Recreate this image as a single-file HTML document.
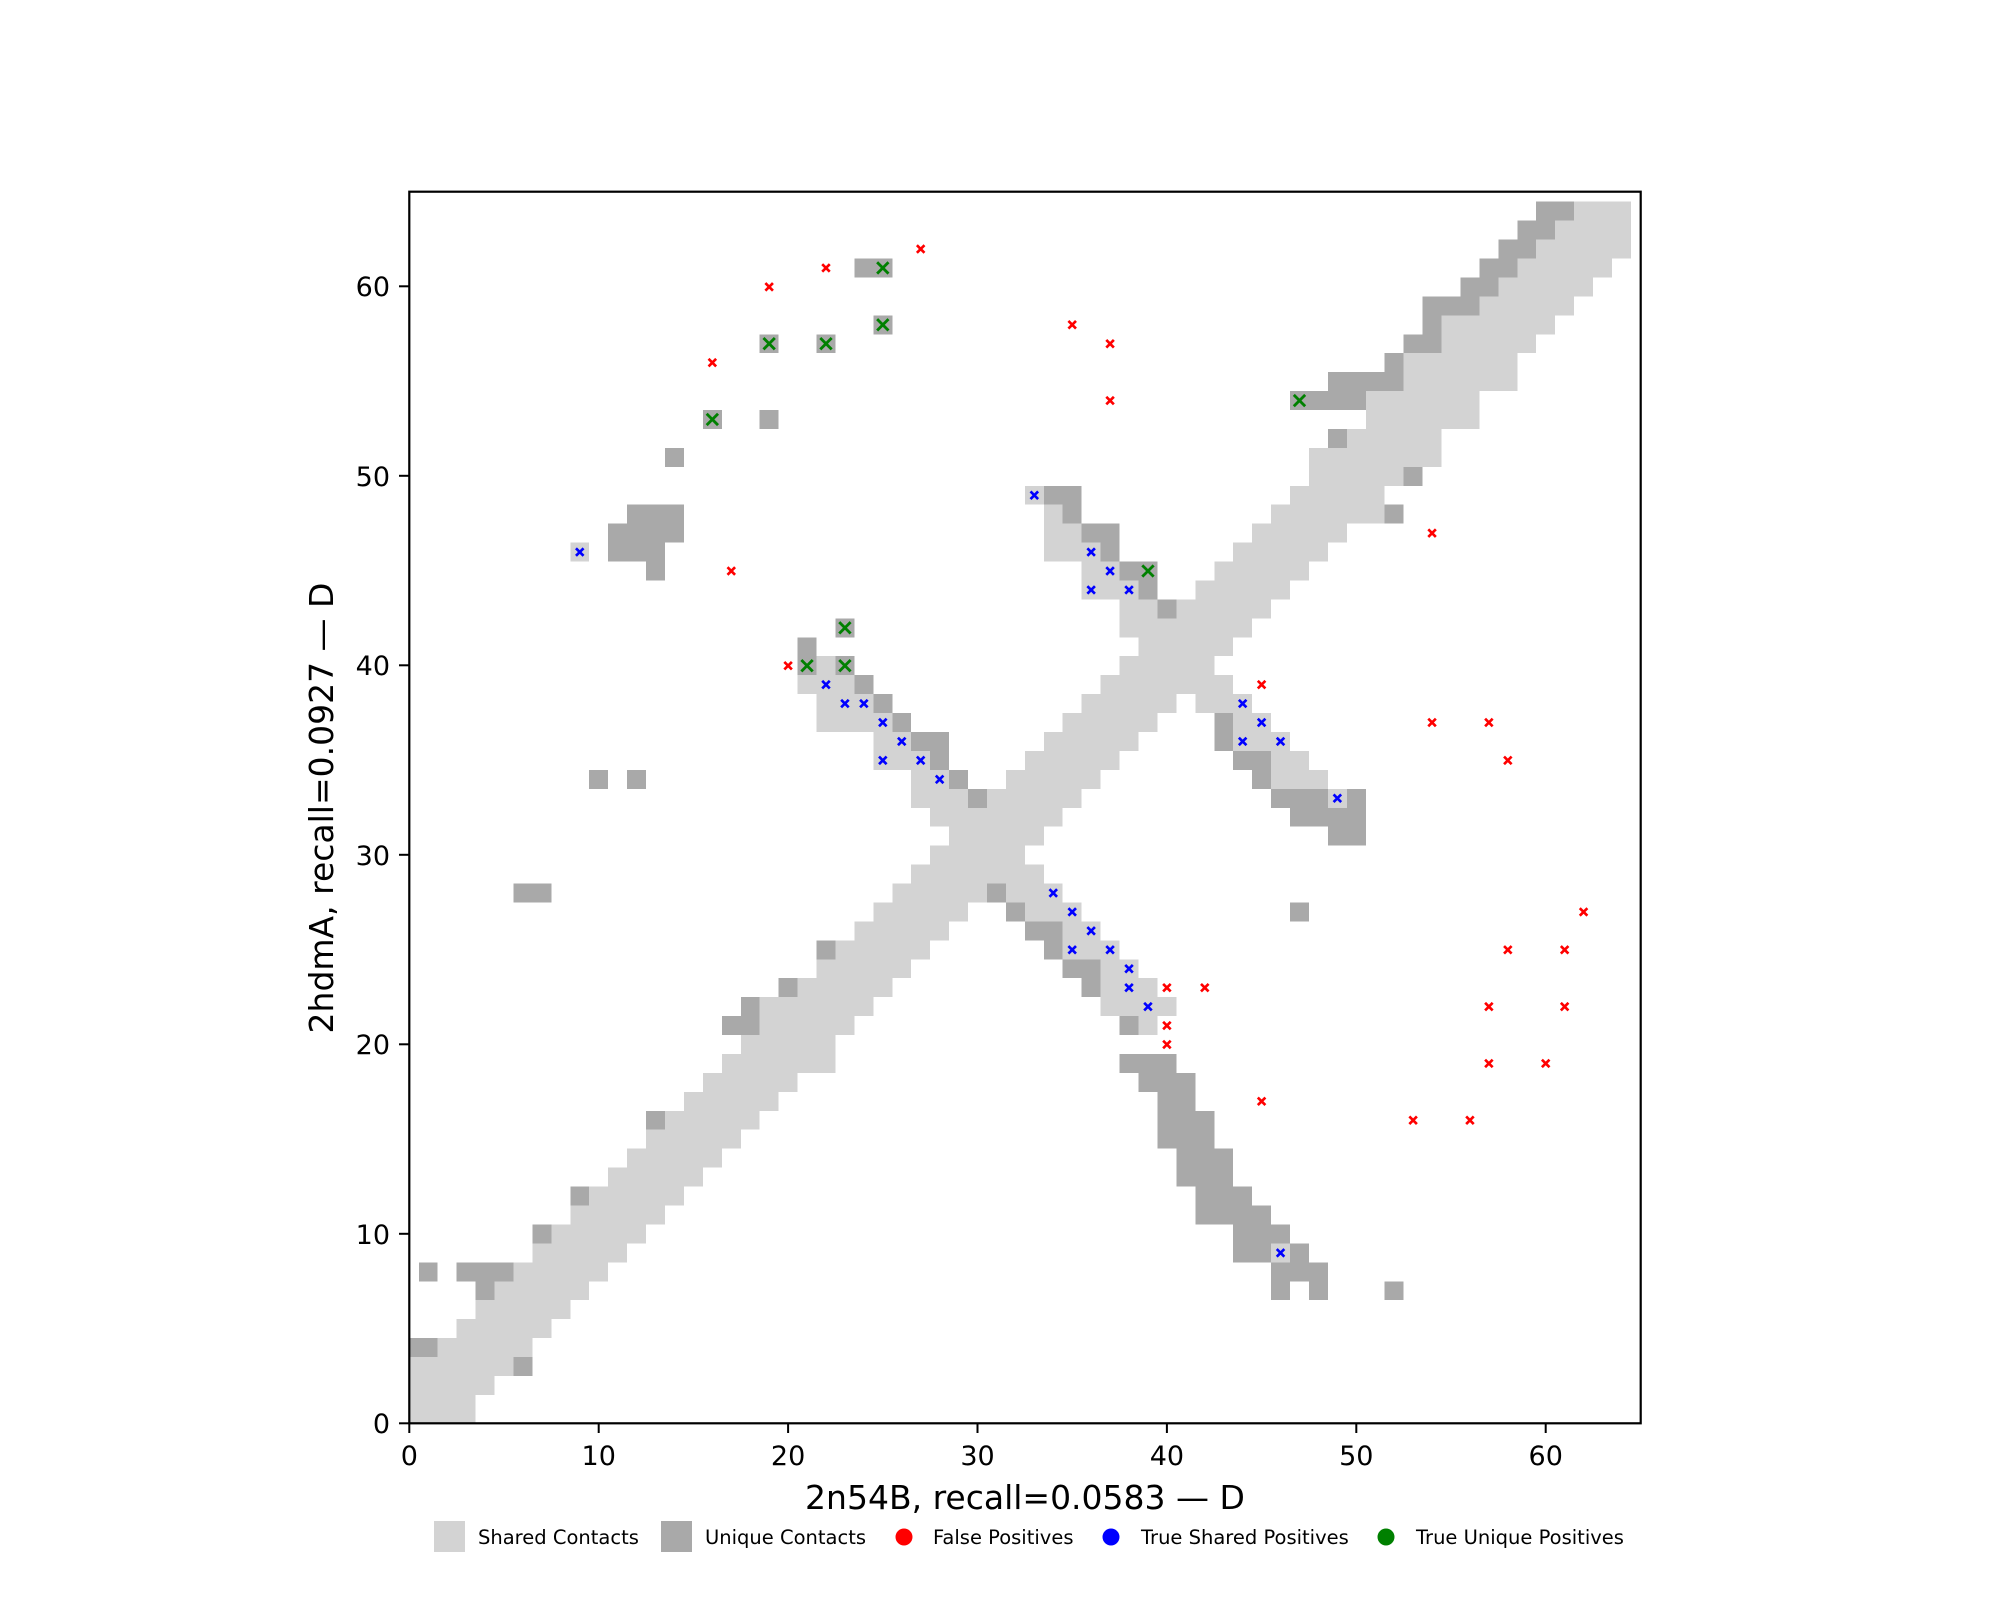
<!DOCTYPE html>
<html><head><meta charset="utf-8"><style>
html,body{margin:0;padding:0;background:#fff;}
svg{display:block;font-family:"DejaVu Sans","Liberation Sans",sans-serif;}
.L{fill:#d3d3d3}.D{fill:#a9a9a9}
.L rect,.D rect{shape-rendering:crispEdges}
</style></head><body>
<svg width="2000" height="1600" viewBox="0 0 2000 1600" xmlns="http://www.w3.org/2000/svg">
<defs>
<clipPath id="cp"><rect x="0" y="0" width="65" height="65"/></clipPath>
<g id="r"><path d="M-0.2,-0.2L0.2,0.2M-0.2,0.2L0.2,-0.2" stroke="#ff0000" stroke-width="0.14" fill="none"/></g>
<g id="b"><path d="M-0.2,-0.2L0.2,0.2M-0.2,0.2L0.2,-0.2" stroke="#0000ff" stroke-width="0.14" fill="none"/></g>
<g id="g"><path d="M-0.3,-0.3L0.3,0.3M-0.3,0.3L0.3,-0.3" stroke="#008000" stroke-width="0.15" fill="none"/></g>
</defs>
<rect width="2000" height="1600" fill="#fff"/>
<g transform="translate(409.3,1423.3) scale(18.94,-18.94)" clip-path="url(#cp)">
<g class="L">
<rect x="-0.5" y="-0.5" width="4" height="1"/>
<rect x="-0.5" y="0.5" width="4" height="1"/>
<rect x="-0.5" y="1.5" width="5" height="1"/>
<rect x="-0.5" y="2.5" width="6" height="1"/>
<rect x="1.5" y="3.5" width="5" height="1"/>
<rect x="2.5" y="4.5" width="5" height="1"/>
<rect x="3.5" y="5.5" width="5" height="1"/>
<rect x="4.5" y="6.5" width="5" height="1"/>
<rect x="5.5" y="7.5" width="5" height="1"/>
<rect x="6.5" y="8.5" width="5" height="1"/><rect x="45.5" y="8.5" width="1" height="1"/>
<rect x="7.5" y="9.5" width="5" height="1"/>
<rect x="8.5" y="10.5" width="5" height="1"/>
<rect x="9.5" y="11.5" width="5" height="1"/>
<rect x="10.5" y="12.5" width="5" height="1"/>
<rect x="11.5" y="13.5" width="5" height="1"/>
<rect x="12.5" y="14.5" width="5" height="1"/>
<rect x="13.5" y="15.5" width="5" height="1"/>
<rect x="14.5" y="16.5" width="5" height="1"/>
<rect x="15.5" y="17.5" width="5" height="1"/>
<rect x="16.5" y="18.5" width="6" height="1"/>
<rect x="17.5" y="19.5" width="5" height="1"/>
<rect x="18.5" y="20.5" width="5" height="1"/><rect x="38.5" y="20.5" width="1" height="1"/>
<rect x="18.5" y="21.5" width="6" height="1"/><rect x="36.5" y="21.5" width="4" height="1"/>
<rect x="20.5" y="22.5" width="5" height="1"/><rect x="36.5" y="22.5" width="3" height="1"/>
<rect x="21.5" y="23.5" width="5" height="1"/><rect x="36.5" y="23.5" width="2" height="1"/>
<rect x="22.5" y="24.5" width="5" height="1"/><rect x="34.5" y="24.5" width="3" height="1"/>
<rect x="23.5" y="25.5" width="5" height="1"/><rect x="34.5" y="25.5" width="2" height="1"/>
<rect x="24.5" y="26.5" width="5" height="1"/><rect x="32.5" y="26.5" width="3" height="1"/>
<rect x="25.5" y="27.5" width="5" height="1"/><rect x="31.5" y="27.5" width="3" height="1"/>
<rect x="26.5" y="28.5" width="7" height="1"/>
<rect x="27.5" y="29.5" width="5" height="1"/>
<rect x="28.5" y="30.5" width="5" height="1"/>
<rect x="27.5" y="31.5" width="7" height="1"/>
<rect x="26.5" y="32.5" width="3" height="1"/><rect x="30.5" y="32.5" width="5" height="1"/><rect x="48.5" y="32.5" width="1" height="1"/>
<rect x="26.5" y="33.5" width="2" height="1"/><rect x="31.5" y="33.5" width="5" height="1"/><rect x="45.5" y="33.5" width="3" height="1"/>
<rect x="24.5" y="34.5" width="3" height="1"/><rect x="32.5" y="34.5" width="5" height="1"/><rect x="45.5" y="34.5" width="2" height="1"/>
<rect x="24.5" y="35.5" width="2" height="1"/><rect x="33.5" y="35.5" width="5" height="1"/><rect x="43.5" y="35.5" width="3" height="1"/>
<rect x="21.5" y="36.5" width="4" height="1"/><rect x="34.5" y="36.5" width="5" height="1"/><rect x="43.5" y="36.5" width="2" height="1"/>
<rect x="21.5" y="37.5" width="3" height="1"/><rect x="35.5" y="37.5" width="5" height="1"/><rect x="41.5" y="37.5" width="3" height="1"/>
<rect x="20.5" y="38.5" width="3" height="1"/><rect x="36.5" y="38.5" width="7" height="1"/>
<rect x="21.5" y="39.5" width="1" height="1"/><rect x="37.5" y="39.5" width="5" height="1"/>
<rect x="38.5" y="40.5" width="5" height="1"/>
<rect x="37.5" y="41.5" width="7" height="1"/>
<rect x="37.5" y="42.5" width="2" height="1"/><rect x="40.5" y="42.5" width="5" height="1"/>
<rect x="35.5" y="43.5" width="3" height="1"/><rect x="41.5" y="43.5" width="5" height="1"/>
<rect x="35.5" y="44.5" width="2" height="1"/><rect x="42.5" y="44.5" width="5" height="1"/>
<rect x="8.5" y="45.5" width="1" height="1"/><rect x="33.5" y="45.5" width="3" height="1"/><rect x="43.5" y="45.5" width="5" height="1"/>
<rect x="33.5" y="46.5" width="2" height="1"/><rect x="44.5" y="46.5" width="5" height="1"/>
<rect x="33.5" y="47.5" width="1" height="1"/><rect x="45.5" y="47.5" width="6" height="1"/>
<rect x="32.5" y="48.5" width="1" height="1"/><rect x="46.5" y="48.5" width="5" height="1"/>
<rect x="47.5" y="49.5" width="5" height="1"/>
<rect x="47.5" y="50.5" width="7" height="1"/>
<rect x="49.5" y="51.5" width="5" height="1"/>
<rect x="50.5" y="52.5" width="6" height="1"/>
<rect x="50.5" y="53.5" width="6" height="1"/>
<rect x="52.5" y="54.5" width="6" height="1"/>
<rect x="52.5" y="55.5" width="6" height="1"/>
<rect x="54.5" y="56.5" width="5" height="1"/>
<rect x="54.5" y="57.5" width="6" height="1"/>
<rect x="56.5" y="58.5" width="5" height="1"/>
<rect x="57.5" y="59.5" width="5" height="1"/>
<rect x="58.5" y="60.5" width="5" height="1"/>
<rect x="59.5" y="61.5" width="5" height="1"/>
<rect x="60.5" y="62.5" width="4" height="1"/>
<rect x="61.5" y="63.5" width="3" height="1"/>
</g>
<g class="D">
<rect x="5.5" y="2.5" width="1" height="1"/>
<rect x="-0.5" y="3.5" width="2" height="1"/>
<rect x="3.5" y="6.5" width="1" height="1"/><rect x="45.5" y="6.5" width="1" height="1"/><rect x="47.5" y="6.5" width="1" height="1"/><rect x="51.5" y="6.5" width="1" height="1"/>
<rect x="0.5" y="7.5" width="1" height="1"/><rect x="2.5" y="7.5" width="3" height="1"/><rect x="45.5" y="7.5" width="3" height="1"/>
<rect x="43.5" y="8.5" width="2" height="1"/><rect x="46.5" y="8.5" width="1" height="1"/>
<rect x="6.5" y="9.5" width="1" height="1"/><rect x="43.5" y="9.5" width="3" height="1"/>
<rect x="41.5" y="10.5" width="4" height="1"/>
<rect x="8.5" y="11.5" width="1" height="1"/><rect x="41.5" y="11.5" width="3" height="1"/>
<rect x="40.5" y="12.5" width="3" height="1"/>
<rect x="40.5" y="13.5" width="3" height="1"/>
<rect x="39.5" y="14.5" width="3" height="1"/>
<rect x="12.5" y="15.5" width="1" height="1"/><rect x="39.5" y="15.5" width="3" height="1"/>
<rect x="39.5" y="16.5" width="2" height="1"/>
<rect x="38.5" y="17.5" width="3" height="1"/>
<rect x="37.5" y="18.5" width="3" height="1"/>
<rect x="16.5" y="20.5" width="2" height="1"/><rect x="37.5" y="20.5" width="1" height="1"/>
<rect x="17.5" y="21.5" width="1" height="1"/>
<rect x="19.5" y="22.5" width="1" height="1"/><rect x="35.5" y="22.5" width="1" height="1"/>
<rect x="34.5" y="23.5" width="2" height="1"/>
<rect x="21.5" y="24.5" width="1" height="1"/><rect x="33.5" y="24.5" width="1" height="1"/>
<rect x="32.5" y="25.5" width="2" height="1"/>
<rect x="31.5" y="26.5" width="1" height="1"/><rect x="46.5" y="26.5" width="1" height="1"/>
<rect x="5.5" y="27.5" width="2" height="1"/><rect x="30.5" y="27.5" width="1" height="1"/>
<rect x="48.5" y="30.5" width="2" height="1"/>
<rect x="46.5" y="31.5" width="4" height="1"/>
<rect x="29.5" y="32.5" width="1" height="1"/><rect x="45.5" y="32.5" width="3" height="1"/><rect x="49.5" y="32.5" width="1" height="1"/>
<rect x="9.5" y="33.5" width="1" height="1"/><rect x="11.5" y="33.5" width="1" height="1"/><rect x="28.5" y="33.5" width="1" height="1"/><rect x="44.5" y="33.5" width="1" height="1"/>
<rect x="27.5" y="34.5" width="1" height="1"/><rect x="43.5" y="34.5" width="2" height="1"/>
<rect x="26.5" y="35.5" width="2" height="1"/><rect x="42.5" y="35.5" width="1" height="1"/>
<rect x="25.5" y="36.5" width="1" height="1"/><rect x="42.5" y="36.5" width="1" height="1"/>
<rect x="24.5" y="37.5" width="1" height="1"/>
<rect x="23.5" y="38.5" width="1" height="1"/>
<rect x="20.5" y="39.5" width="1" height="1"/><rect x="22.5" y="39.5" width="1" height="1"/>
<rect x="20.5" y="40.5" width="1" height="1"/>
<rect x="22.5" y="41.5" width="1" height="1"/>
<rect x="39.5" y="42.5" width="1" height="1"/>
<rect x="38.5" y="43.5" width="1" height="1"/>
<rect x="12.5" y="44.5" width="1" height="1"/><rect x="37.5" y="44.5" width="2" height="1"/>
<rect x="10.5" y="45.5" width="3" height="1"/><rect x="36.5" y="45.5" width="1" height="1"/>
<rect x="10.5" y="46.5" width="4" height="1"/><rect x="35.5" y="46.5" width="2" height="1"/>
<rect x="11.5" y="47.5" width="3" height="1"/><rect x="34.5" y="47.5" width="1" height="1"/><rect x="51.5" y="47.5" width="1" height="1"/>
<rect x="33.5" y="48.5" width="2" height="1"/>
<rect x="52.5" y="49.5" width="1" height="1"/>
<rect x="13.5" y="50.5" width="1" height="1"/>
<rect x="48.5" y="51.5" width="1" height="1"/>
<rect x="15.5" y="52.5" width="1" height="1"/><rect x="18.5" y="52.5" width="1" height="1"/>
<rect x="46.5" y="53.5" width="4" height="1"/>
<rect x="48.5" y="54.5" width="4" height="1"/>
<rect x="51.5" y="55.5" width="1" height="1"/>
<rect x="18.5" y="56.5" width="1" height="1"/><rect x="21.5" y="56.5" width="1" height="1"/><rect x="52.5" y="56.5" width="2" height="1"/>
<rect x="24.5" y="57.5" width="1" height="1"/><rect x="53.5" y="57.5" width="1" height="1"/>
<rect x="53.5" y="58.5" width="3" height="1"/>
<rect x="55.5" y="59.5" width="2" height="1"/>
<rect x="23.5" y="60.5" width="2" height="1"/><rect x="56.5" y="60.5" width="2" height="1"/>
<rect x="57.5" y="61.5" width="2" height="1"/>
<rect x="58.5" y="62.5" width="2" height="1"/>
<rect x="59.5" y="63.5" width="2" height="1"/>
</g>
<use href="#r" x="27" y="62"/><use href="#r" x="22" y="61"/><use href="#r" x="19" y="60"/><use href="#r" x="16" y="56"/>
<use href="#r" x="17" y="45"/><use href="#r" x="20" y="40"/><use href="#r" x="35" y="58"/><use href="#r" x="37" y="57"/>
<use href="#r" x="37" y="54"/><use href="#r" x="54" y="47"/><use href="#r" x="45" y="39"/><use href="#r" x="54" y="37"/>
<use href="#r" x="57" y="37"/><use href="#r" x="58" y="35"/><use href="#r" x="62" y="27"/><use href="#r" x="58" y="25"/>
<use href="#r" x="61" y="25"/><use href="#r" x="40" y="23"/><use href="#r" x="42" y="23"/><use href="#r" x="57" y="22"/>
<use href="#r" x="61" y="22"/><use href="#r" x="40" y="21"/><use href="#r" x="40" y="20"/><use href="#r" x="57" y="19"/>
<use href="#r" x="60" y="19"/><use href="#r" x="45" y="17"/><use href="#r" x="53" y="16"/><use href="#r" x="56" y="16"/>
<use href="#b" x="9" y="46"/><use href="#b" x="22" y="39"/><use href="#b" x="23" y="38"/><use href="#b" x="24" y="38"/>
<use href="#b" x="25" y="37"/><use href="#b" x="26" y="36"/><use href="#b" x="25" y="35"/><use href="#b" x="27" y="35"/>
<use href="#b" x="28" y="34"/><use href="#b" x="33" y="49"/><use href="#b" x="36" y="46"/><use href="#b" x="37" y="45"/>
<use href="#b" x="36" y="44"/><use href="#b" x="38" y="44"/><use href="#b" x="44" y="38"/><use href="#b" x="45" y="37"/>
<use href="#b" x="44" y="36"/><use href="#b" x="46" y="36"/><use href="#b" x="49" y="33"/><use href="#b" x="34" y="28"/>
<use href="#b" x="35" y="27"/><use href="#b" x="36" y="26"/><use href="#b" x="35" y="25"/><use href="#b" x="37" y="25"/>
<use href="#b" x="38" y="24"/><use href="#b" x="38" y="23"/><use href="#b" x="39" y="22"/><use href="#b" x="46" y="9"/>
<use href="#g" x="25" y="61"/><use href="#g" x="25" y="58"/><use href="#g" x="19" y="57"/><use href="#g" x="22" y="57"/>
<use href="#g" x="16" y="53"/><use href="#g" x="23" y="42"/><use href="#g" x="21" y="40"/><use href="#g" x="23" y="40"/>
<use href="#g" x="47" y="54"/><use href="#g" x="39" y="45"/>
</g>
<rect x="409.3" y="191.7" width="1231.4" height="1231.6" fill="none" stroke="#000" stroke-width="2.2"/>
<g stroke="#000" stroke-width="2">
<line x1="409.3" y1="1423" x2="409.3" y2="1433"/><line x1="598.7" y1="1423" x2="598.7" y2="1433"/>
<line x1="788.1" y1="1423" x2="788.1" y2="1433"/><line x1="977.5" y1="1423" x2="977.5" y2="1433"/>
<line x1="1166.9" y1="1423" x2="1166.9" y2="1433"/><line x1="1356.3" y1="1423" x2="1356.3" y2="1433"/>
<line x1="1545.7" y1="1423" x2="1545.7" y2="1433"/>
<line x1="399" y1="1423.3" x2="409" y2="1423.3"/><line x1="399" y1="1233.8" x2="409" y2="1233.8"/>
<line x1="399" y1="1044.3" x2="409" y2="1044.3"/><line x1="399" y1="854.8" x2="409" y2="854.8"/>
<line x1="399" y1="665.3" x2="409" y2="665.3"/><line x1="399" y1="475.8" x2="409" y2="475.8"/>
<line x1="399" y1="286.3" x2="409" y2="286.3"/>
</g>
<g font-size="27" fill="#000" text-anchor="middle">
<text x="409.3" y="1465">0</text><text x="598.7" y="1465">10</text><text x="788.1" y="1465">20</text>
<text x="977.5" y="1465">30</text><text x="1166.9" y="1465">40</text><text x="1356.3" y="1465">50</text>
<text x="1545.7" y="1465">60</text>
</g>
<g font-size="27" fill="#000" text-anchor="end">
<text x="390" y="1433">0</text><text x="390" y="1244">10</text><text x="390" y="1054">20</text>
<text x="390" y="865">30</text><text x="390" y="675">40</text><text x="390" y="486">50</text>
<text x="390" y="296">60</text>
</g>
<text x="1025" y="1509" font-size="33" text-anchor="middle">2n54B, recall=0.0583 — D</text>
<text transform="translate(333,808) rotate(-90)" font-size="33" text-anchor="middle">2hdmA, recall=0.0927 — D</text>
<g font-size="19.5" fill="#000">
<rect x="434" y="1521" width="31" height="31" fill="#d3d3d3"/><text x="478" y="1544">Shared Contacts</text>
<rect x="661" y="1521" width="31" height="31" fill="#a9a9a9"/><text x="705" y="1544">Unique Contacts</text>
<circle cx="904" cy="1537" r="8.5" fill="#ff0000"/><text x="933" y="1544">False Positives</text>
<circle cx="1111" cy="1537" r="8.5" fill="#0000ff"/><text x="1141" y="1544">True Shared Positives</text>
<circle cx="1386" cy="1537" r="8.5" fill="#008000"/><text x="1416" y="1544">True Unique Positives</text>
</g>
</svg>
</body></html>
